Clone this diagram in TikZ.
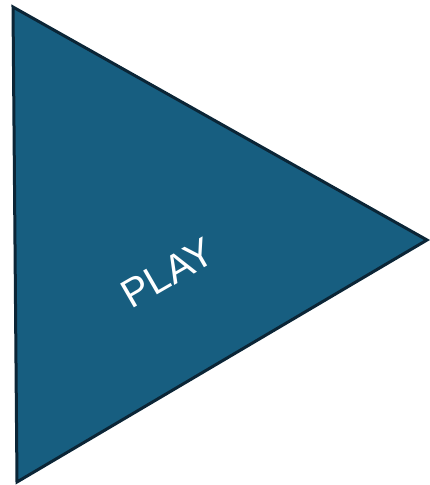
\documentclass[tikz,border=0pt]{standalone}
\usepackage{fontspec}
\setmainfont{Liberation Sans}
\definecolor{tfill}{HTML}{175E80}
\definecolor{tline}{HTML}{0B2536}
\begin{document}
\begin{tikzpicture}[x=1pt,y=-1pt,
  tri/.style={fill=tfill,draw=tline,line width=3pt,line join=miter},
  lbl/.style={text=white,font=\fontsize{40}{44}\selectfont,inner sep=0pt}]
\useasboundingbox (0,0) rectangle (429,485);
\coordinate (A) at (13,7);
\coordinate (B) at (427,240);
\coordinate (C) at (17,482);
\draw[tri] (A) -- (B) -- (C) -- cycle;
\node[lbl,rotate=30] (play) at (168,273) {PLAY};
\end{tikzpicture}
\end{document}
